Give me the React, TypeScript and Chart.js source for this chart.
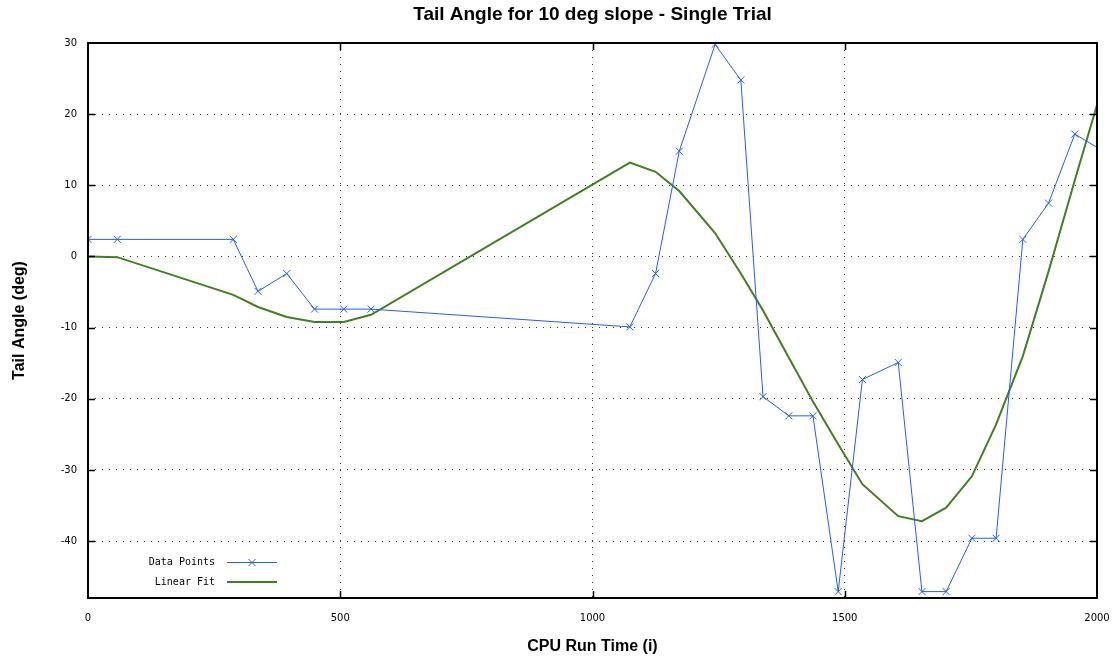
import React, { useEffect, useRef } from 'react';
import { Chart, registerables } from 'chart.js';

Chart.register(...registerables);

const TITLE = 'Tail Angle for 10 deg slope - Single Trial';
const X_TITLE = 'CPU Run Time (i)';
const Y_TITLE = 'Tail Angle (deg)';
const SERIES_NAMES = ['Data Points', 'Linear Fit'];

const runTimes = [0, 58, 288, 337, 394, 449, 507, 561, 1074, 1125, 1172, 1243, 1294, 1338, 1389, 1437, 1487, 1535, 1606, 1653, 1701, 1752, 1800, 1853, 1904, 1956, 2008];
const dataPoints = [2.4, 2.4, 2.4, -4.9, -2.4, -7.4, -7.4, -7.4, -9.9, -2.4, 14.8, 29.8, 24.8, -19.7, -22.4, -22.4, -47.1, -17.3, -14.9, -47.1, -47.1, -39.6, -39.6, 2.4, 7.5, 17.2, 15.0];
const linearFit = [0, -0.1, -5.4, -7.1, -8.5, -9.2, -9.2, -8.2, 13.2, 11.9, 9.2, 3.3, -2.4, -7.6, -14.2, -20.4, -26.4, -32.0, -36.5, -37.2, -35.3, -30.9, -23.6, -14.0, -2.1, 10.7, 23.2];

const xTicks = [0, 500, 1000, 1500, 2000];
const yTicks = [-40, -30, -20, -10, 0, 10, 20, 30];
const X_MIN = 0;
const X_MAX = 2000;
const Y_MIN = -48;
const Y_MAX = 30;

const BLUE = 'rgb(34, 92, 255)';
const GREEN = 'rgb(64, 128, 32)';

const framePlugin = {
  id: 'gnuFrame',
  afterDraw(chart: any) {
    const { ctx, chartArea } = chart;
    const { left, right, top, bottom } = chartArea;
    const xs = chart.scales.x;
    const ys = chart.scales.y;
    ctx.save();
    ctx.strokeStyle = '#000';
    ctx.lineWidth = 1.5;
    ctx.beginPath();
    xTicks.forEach((v) => {
      if (v === X_MIN || v === X_MAX) return;
      const px = Math.round(xs.getPixelForValue(v)) + 0.5;
      ctx.moveTo(px, bottom);
      ctx.lineTo(px, bottom - 7);
      ctx.moveTo(px, top);
      ctx.lineTo(px, top + 7);
    });
    yTicks.forEach((v) => {
      if (v === Y_MIN || v === Y_MAX) return;
      const py = Math.round(ys.getPixelForValue(v)) + 0.5;
      ctx.moveTo(left, py);
      ctx.lineTo(left + 7, py);
      ctx.moveTo(right, py);
      ctx.lineTo(right - 7, py);
    });
    ctx.stroke();
    ctx.lineWidth = 2;
    ctx.strokeRect(left, top, right - left, bottom - top);

    ctx.fillStyle = '#000';
    ctx.font = 'bold 19px "Liberation Sans", Arial, sans-serif';
    ctx.textAlign = 'center';
    ctx.textBaseline = 'middle';
    ctx.fillText(TITLE, (left + right) / 2, 15);

    ctx.font = '10px "DejaVu Sans Mono", monospace';
    ctx.textAlign = 'right';
    const rows = [
      { label: SERIES_NAMES[0], color: BLUE, width: 1, marker: true, y: bottom - 36 },
      { label: SERIES_NAMES[1], color: GREEN, width: 2, marker: false, y: bottom - 16 },
    ];
    rows.forEach((r) => {
      ctx.fillStyle = '#000';
      ctx.fillText(r.label, left + 127, r.y);
      ctx.strokeStyle = r.color;
      ctx.lineWidth = r.width;
      const ly = Math.round(r.y) + (r.width === 1 ? 0.5 : 0);
      ctx.beginPath();
      ctx.moveTo(left + 139, ly);
      ctx.lineTo(left + 189, ly);
      ctx.stroke();
      if (r.marker) {
        const cx = left + 164;
        const d = 3.5;
        ctx.beginPath();
        ctx.moveTo(cx - d, ly - d);
        ctx.lineTo(cx + d, ly + d);
        ctx.moveTo(cx - d, ly + d);
        ctx.lineTo(cx + d, ly - d);
        ctx.stroke();
      }
    });
    ctx.restore();
  },
};

export default function App() {
  const canvasRef = useRef<HTMLCanvasElement | null>(null);

  useEffect(() => {
    const canvas = canvasRef.current;
    if (!canvas) return;
    const chart = new Chart(canvas, {
      type: 'line',
      data: {
        datasets: [
          {
            label: SERIES_NAMES[0],
            data: runTimes.map((x, i) => ({ x, y: dataPoints[i] })),
            borderColor: BLUE,
            backgroundColor: BLUE,
            borderWidth: 1,
            pointStyle: 'crossRot',
            pointRadius: 5,
            pointBorderWidth: 1,
            pointBorderColor: BLUE,
            tension: 0,
            fill: false,
            clip: 0,
          },
          {
            label: SERIES_NAMES[1],
            data: runTimes.map((x, i) => ({ x, y: linearFit[i] })),
            borderColor: GREEN,
            backgroundColor: GREEN,
            borderWidth: 2,
            pointRadius: 0,
            tension: 0,
            fill: false,
            clip: 0,
          },
        ],
      },
      options: {
        responsive: false,
        animation: false,
        layout: { padding: { left: 0, right: 16, top: 43, bottom: 0 } },
        plugins: {
          legend: { display: false },
          title: { display: false },
          tooltip: { enabled: false },
        },
        scales: {
          x: {
            type: 'linear',
            min: X_MIN,
            max: X_MAX,
            afterBuildTicks: (scale: any) => {
              scale.ticks = xTicks.map((v) => ({ value: v }));
            },
            afterFit: (scale: any) => {
              scale.height = 59;
              scale.paddingLeft = 0;
              scale.paddingRight = 0;
            },
            ticks: {
              color: '#000',
              padding: 14,
              maxRotation: 0,
              callback: (v: any) => String(v),
              font: { family: '"DejaVu Sans", sans-serif', size: 10 },
            },
            grid: { color: '#333', lineWidth: 1, drawTicks: false },
            border: { display: false, dash: [1, 6] },
            title: {
              display: true,
              text: X_TITLE,
              color: '#000',
              font: { family: '"Liberation Sans", Arial, sans-serif', size: 16, weight: 'bold' },
              padding: { top: 0, bottom: 1 },
            },
          },
          y: {
            type: 'linear',
            min: Y_MIN,
            max: Y_MAX,
            afterBuildTicks: (scale: any) => {
              scale.ticks = yTicks.map((v) => ({ value: v }));
            },
            afterFit: (scale: any) => {
              scale.width = 88;
              scale.paddingTop = 0;
              scale.paddingBottom = 0;
            },
            ticks: {
              color: '#000',
              padding: 11,
              callback: (v: any) => String(v),
              font: { family: '"DejaVu Sans", sans-serif', size: 10 },
            },
            grid: { color: '#333', lineWidth: 1, drawTicks: false },
            border: { display: false, dash: [1, 6] },
            title: {
              display: true,
              text: Y_TITLE,
              color: '#000',
              font: { family: '"Liberation Sans", Arial, sans-serif', size: 16, weight: 'bold' },
              padding: { top: 10, bottom: 0 },
            },
          },
        },
      },
      plugins: [framePlugin],
    } as any);
    return () => chart.destroy();
  }, []);

  return (
    <div style={{ position: 'absolute', left: 0, top: 0, width: 1113, height: 657, background: '#fff' }}>
      <canvas ref={canvasRef} width={1113} height={657} style={{ display: 'block' }} />
    </div>
  );
}
